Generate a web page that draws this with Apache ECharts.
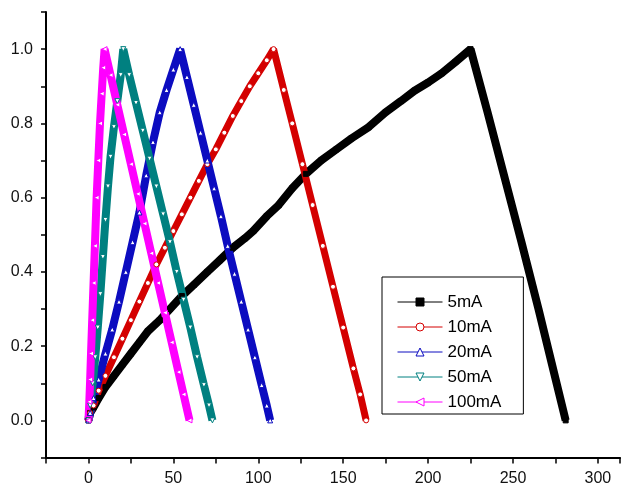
<!DOCTYPE html>
<html>
<head>
<meta charset="utf-8">
<script src="https://cdn.jsdelivr.net/npm/echarts@6/dist/echarts.min.js"></script>
<style>
html,body{margin:0;padding:0;background:#fff;}
#chart{width:623px;height:497px;}
</style>
</head>
<body>
<div id="chart"></div>
<script>
// Series names
const seriesNames = ['5mA', '10mA', '20mA', '50mA', '100mA'];

// Values: [x, y]
const data5mA = [[0,0],[1,0.02],[3,0.035],[6,0.06],[10,0.09],[15,0.12],[20,0.15],[25,0.18],[30,0.21],[35,0.24],[42,0.27],[48,0.30],[55,0.335],[62,0.365],[70,0.40],[77,0.43],[85,0.465],[92,0.49],[97,0.51],[105,0.55],[112,0.58],[120,0.625],[128,0.664],[137,0.70],[146,0.73],[155,0.76],[165,0.79],[175,0.83],[184,0.86],[192,0.888],[200,0.91],[208,0.935],[216,0.965],[225,1.0],
  [235,0.83],[245,0.655],[255,0.48],[265,0.30],[273,0.15],[281,0]];
const data10mA = [[0,0],[1,0.02],[3,0.04],[6,0.08],[10,0.12],[15,0.17],[20,0.22],[25,0.27],[30,0.32],[35,0.37],[40,0.42],[45,0.465],[50,0.51],[55,0.555],[60,0.60],[65,0.645],[70,0.69],[75,0.73],[80,0.775],[85,0.82],[90,0.86],[95,0.90],[100,0.935],[105,0.97],[109,1.0],
  [115,0.89],[120,0.80],[126,0.69],[132,0.58],[138,0.47],[144,0.36],[150,0.25],[156,0.14],[160,0.07],[163.5,0]];
const data20mA = [[0,0],[1,0.02],[3,0.06],[6,0.11],[10,0.18],[14,0.245],[18,0.32],[22,0.40],[26,0.48],[30,0.56],[34,0.66],[38,0.75],[42,0.83],[46,0.89],[50,0.945],[54,1.0],
  [58,0.925],[62,0.85],[66,0.775],[70,0.70],[74,0.625],[78,0.55],[82,0.47],[86,0.395],[90,0.32],[94,0.245],[98,0.17],[102,0.095],[105,0.04],[107,0]];
const data50mA = [[0,0],[1,0.04],[2.5,0.10],[4,0.17],[5.5,0.25],[7,0.34],[8.5,0.44],[10,0.54],[11.5,0.63],[13,0.71],[15,0.79],[17,0.86],[19,0.93],[20.5,1.0],
  [24,0.93],[28,0.855],[32,0.78],[36,0.705],[40,0.63],[44,0.555],[48,0.48],[52,0.40],[56,0.325],[60,0.25],[64,0.17],[68,0.095],[71,0.04],[73,0]];
const data100mA = [[0,0],[0.5,0.05],[1,0.11],[1.5,0.18],[2.2,0.27],[3,0.37],[3.8,0.47],[4.8,0.60],[5.8,0.70],[6.8,0.80],[7.8,0.88],[8.7,0.95],[9.5,1.0],
  [13,0.93],[17,0.85],[21,0.77],[25,0.69],[29,0.61],[33,0.53],[37,0.45],[41,0.37],[45,0.29],[49,0.21],[53,0.13],[56,0.07],[59.5,0]];

const allData = [data5mA, data10mA, data20mA, data50mA, data100mA];
const colors = ['#000000', '#d40000', '#0c0cc0', '#008080', '#ff00ff'];
const symbols = ['rect', 'circle', 'triangle', 'triangle', 'triangle'];
const rotates = [0, 0, 0, 180, 90];
const bandWidths = [8, 7, 8, 8, 8];
const hollow = [false, true, true, true, true];

const chart = echarts.init(document.getElementById('chart'), null, {renderer: 'canvas'});
const font = 'Arial, "Liberation Sans", sans-serif';

const series = allData.map((d, i) => ({
  name: seriesNames[i],
  type: 'line',
  data: d,
  symbol: symbols[i],
  symbolRotate: rotates[i],
  symbolSize: 5,
  showAllSymbol: true,
  animation: false,
  lineStyle: {color: colors[i], width: bandWidths[i]},
  itemStyle: {
    color: hollow[i] ? '#ffffff' : colors[i],
    borderColor: colors[i],
    borderWidth: 1
  },
  emphasis: {disabled: true}
}));

chart.setOption({
  backgroundColor: '#ffffff',
  animation: false,
  grid: {left: 46, top: 12, right: 0, bottom: 39.5, containLabel: false},
  xAxis: {
    type: 'value',
    min: -25, max: 313, interval: 25,
    splitLine: {show: false},
    axisLine: {onZero: false, lineStyle: {color: '#000', width: 2}},
    axisTick: {show: true, length: 6, lineStyle: {color: '#000', width: 1.5}},
    axisLabel: {
      margin: 13, color: '#111', fontSize: 16, fontFamily: font,
      formatter: v => (Math.round(v) % 50 === 0 && v >= 0 && v <= 300) ? String(Math.round(v)) : ''
    }
  },
  yAxis: {
    type: 'value',
    min: -0.1, max: 1.1, interval: 0.1,
    splitLine: {show: false},
    axisLine: {onZero: false, lineStyle: {color: '#000', width: 2}},
    axisTick: {show: true, length: 5, lineStyle: {color: '#000', width: 1.5}},
    axisLabel: {
      margin: 13, color: '#111', fontSize: 16, fontFamily: font,
      formatter: v => {
        const k = Math.round(v * 10);
        return (k >= 0 && k <= 10 && k % 2 === 0) ? (k / 10).toFixed(1) : '';
      }
    }
  },
  legend: {
    orient: 'vertical',
    left: 382, top: 277,
    data: seriesNames,
    itemWidth: 45, itemHeight: 10, itemGap: 5,
    padding: [15, 22, 2, 15],
    borderColor: '#000', borderWidth: 1,
    backgroundColor: '#fff',
    lineStyle: {width: 1},
    itemStyle: {borderWidth: 1},
    textStyle: {fontSize: 17, fontFamily: font, color: '#000', lineHeight: 20}
  },
  series: series
});
</script>
</body>
</html>
